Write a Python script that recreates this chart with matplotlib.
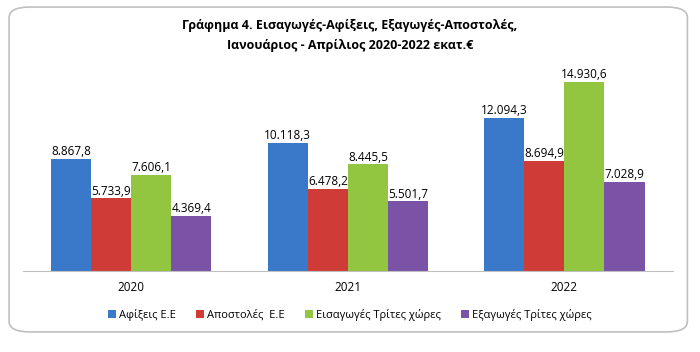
import matplotlib
matplotlib.use('Agg')
import matplotlib.pyplot as plt
import numpy as np
from matplotlib.patches import FancyBboxPatch

years = ['2020', '2021', '2022']
series_names = ['Αφίξεις Ε.Ε', 'Αποστολές  Ε.Ε', 'Εισαγωγές Τρίτες χώρες', 'Εξαγωγές Τρίτες χώρες']
afixeis = [8867.8, 10118.3, 12094.3]
apostoles = [5733.9, 6478.2, 8694.9]
eisagoges = [7606.1, 8445.5, 14930.6]
exagoges = [4369.4, 5501.7, 7028.9]
colors = ['#3a78c9', '#cf3b36', '#92c540', '#7a52a6']

plt.rcParams['font.family'] = ['Open Sans', 'DejaVu Sans']

fig = plt.figure(figsize=(7, 3.52), dpi=100)
border = FancyBboxPatch((0.013, 0.057), 0.969, 0.923, boxstyle='round,pad=0,rounding_size=0.03',
                        transform=fig.transFigure, fc='white', ec='#c0c0c0', lw=1.2, zorder=-5)
fig.patches.append(border)
ax = fig.add_axes([0.033, 0.230, 0.928, 0.576])

x = np.arange(len(years))
w = 0.185
data = [afixeis, apostoles, eisagoges, exagoges]
for i, (vals, c, name) in enumerate(zip(data, colors, series_names)):
    pos = x + (i - 1.5) * w
    ax.bar(pos, vals, w, color=c, label=name)
    for p, v in zip(pos, vals):
        s = f'{v:,.1f}'.replace(',', 'X').replace('.', ',').replace('X', '.')
        ax.text(p, v + 40, s, ha='center', va='bottom', fontsize=8.5)

ax.set_xlim(-0.5, 2.5)
ax.set_ylim(0, 16000)
ax.set_xticks(x)
ax.set_xticklabels(years, fontsize=8.5)
ax.set_yticks([])
for s in ['top', 'right', 'left']:
    ax.spines[s].set_visible(False)
ax.spines['bottom'].set_color('#bfbfbf')
ax.tick_params(axis='x', length=0, pad=7)
ax.patch.set_alpha(0)

fig.text(0.5, 0.928, 'Γράφημα 4. Εισαγωγές-Αφίξεις, Εξαγωγές-Αποστολές,', ha='center', va='center',
         fontsize=9, fontweight='bold')
fig.text(0.5, 0.871, 'Ιανουάριος - Απρίλιος 2020-2022 εκατ.€', ha='center', va='center',
         fontsize=9, fontweight='bold')

fig.legend(loc='center', bbox_to_anchor=(0.5, 0.105), ncol=4, frameon=False, fontsize=8,
           handlelength=0.7, handleheight=0.7, handletextpad=0.3, columnspacing=1.8)

fig.savefig('out.png', dpi=100)
